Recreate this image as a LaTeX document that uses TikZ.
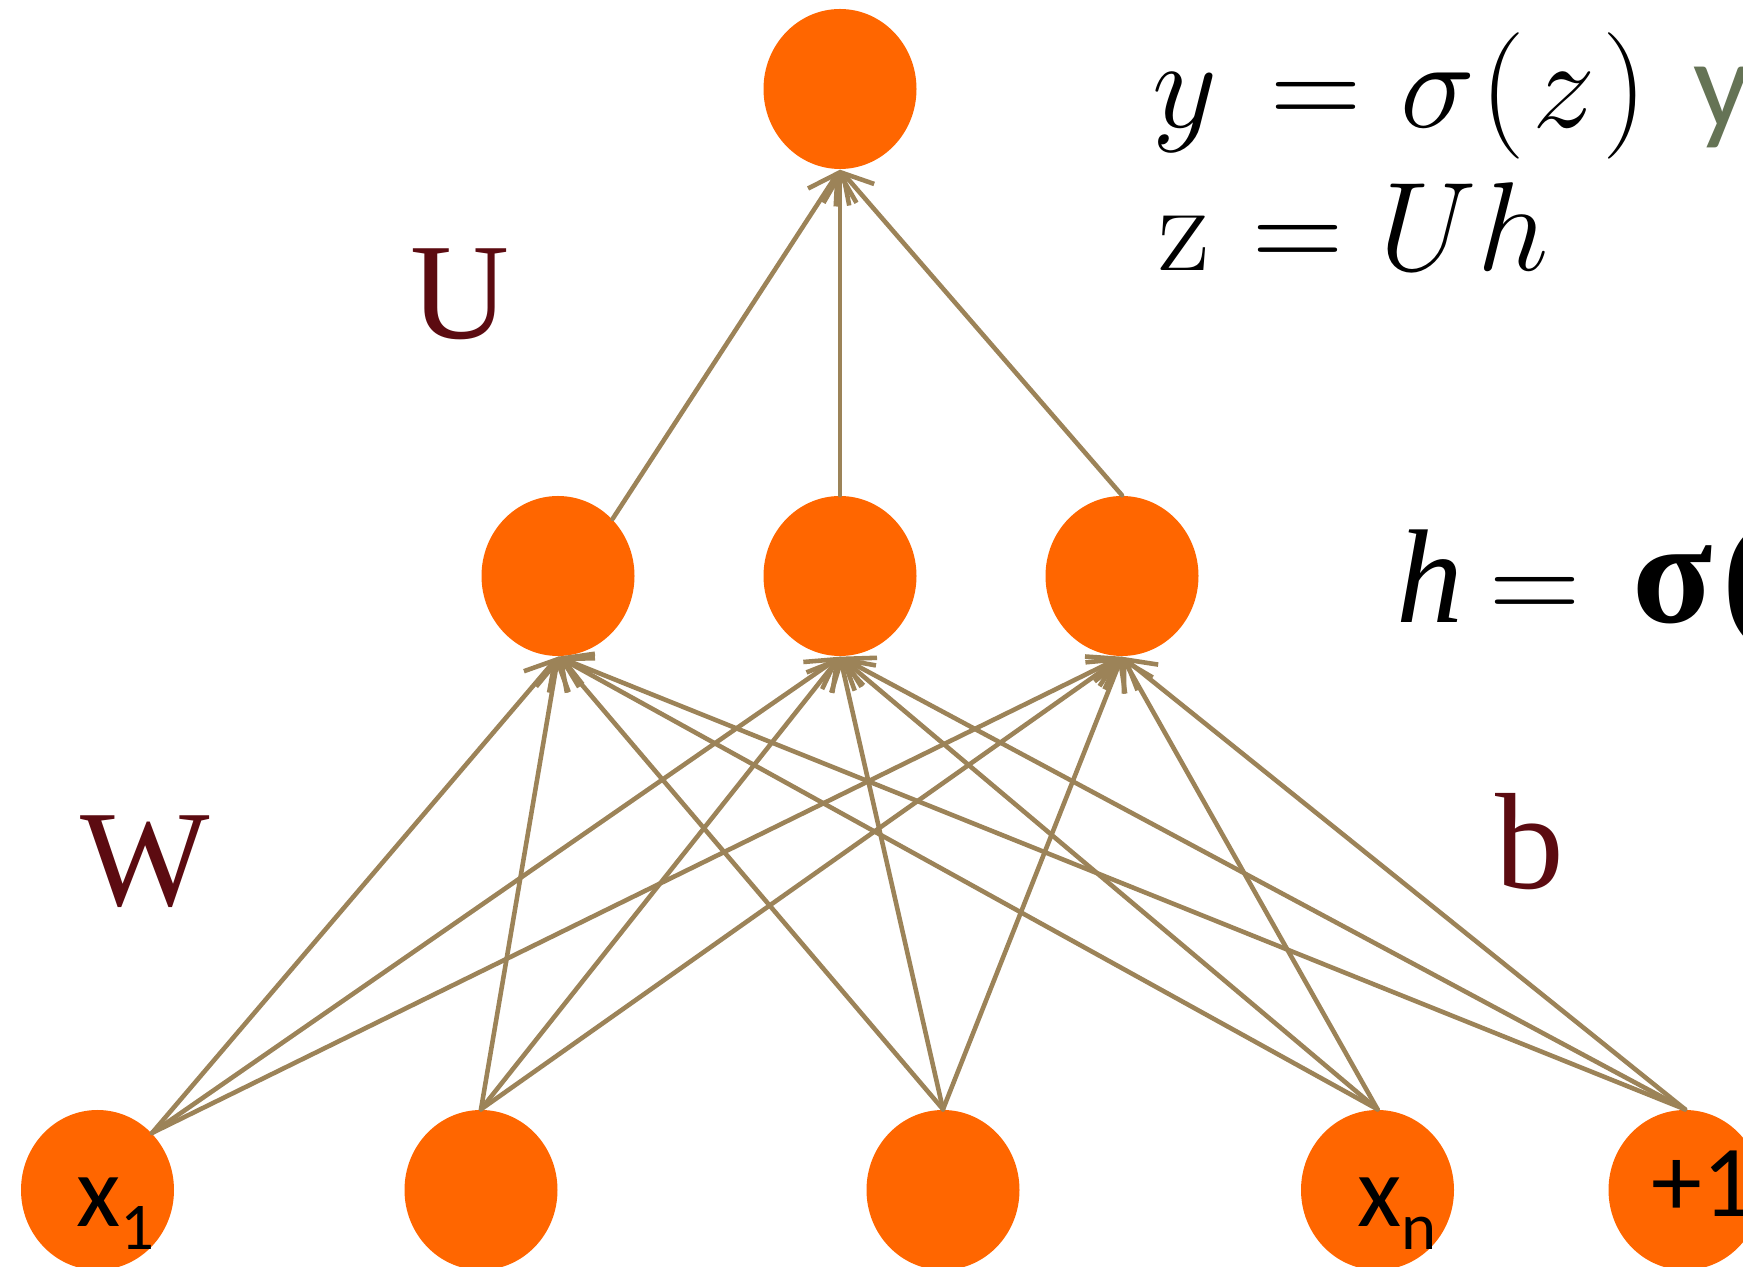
\RequirePackage{fix-cm}
\documentclass[tikz,border=0pt]{standalone}
\usepackage{amsmath}
\usepackage{fontspec}
\usepackage{xcolor}
\usepackage{tikz}
\usetikzlibrary{arrows.meta,shapes.geometric}

\newfontfamily\fuentesans{Carlito}
\newfontfamily\fuenteserif{Liberation Serif}

\definecolor{naranja}{RGB}{255,102,0}
\definecolor{pesos}{RGB}{156,131,88}
\definecolor{granate}{RGB}{92,11,17}
\definecolor{oliva}{RGB}{101,115,85}

\begin{document}
\begin{tikzpicture}[
  neurona/.style={ellipse, fill=naranja, draw=none, inner sep=0pt,
                  minimum width=15.3mm, minimum height=16mm},
  flecha/.style={draw=pesos, line width=1.3pt, line cap=round,
                 -{Straight Barb[angle=60:3.3mm]}},
  etqx/.style={font=\fuentesans\fontsize{29}{29}\selectfont, inner sep=0pt,
               anchor=base},
  param/.style={font=\fuenteserif\fontsize{39}{39}\selectfont, text=granate,
                inner sep=0pt, anchor=base},
  ecuacion/.style={font=\fontsize{36}{40}\selectfont, inner sep=0pt,
                   anchor=base west},
]
  \useasboundingbox[fill=white] (0,0) rectangle (17.43,12.67);

  % Neurona de salida
  \node[neurona] (out) at (8.40,11.78) {};

  % Capa oculta
  \node[neurona] (h1) at ( 5.58,6.91) {};
  \node[neurona] (h2) at ( 8.40,6.91) {};
  \node[neurona] (h3) at (11.22,6.91) {};

  % Entradas (la ultima es el sesgo)
  \node[neurona] (x1)   at ( 0.975,0.77) {};
  \node[neurona] (x2)   at ( 4.81, 0.77) {};
  \node[neurona] (x3)   at ( 9.43, 0.77) {};
  \node[neurona] (xn)   at (13.775,0.77) {};
  \node[neurona] (bias) at (16.85, 0.77) {};

  \node[etqx] (lx1) at ( 1.15,0.40) {x\raisebox{-2.3mm}{\fontsize{19}{19}\selectfont 1}};
  \node[etqx] (lxn) at (13.97,0.40) {x\raisebox{-2.3mm}{\fontsize{19}{19}\selectfont n}};
  \node[etqx, anchor=base west] (lbias) at (16.51,0.50) {+1};

  % Pesos W: de cada entrada a cada neurona oculta
  \draw[flecha] (x1.north east) -- (h1.south);
  \draw[flecha] (x1.north east) -- (h2.south);
  \draw[flecha] (x1.north east) -- (h3.south);
  \draw[flecha] (x2.north) -- (h1.south);
  \draw[flecha] (x2.north) -- (h2.south);
  \draw[flecha] (x2.north) -- (h3.south);
  \draw[flecha] (x3.north) -- (h1.south);
  \draw[flecha] (x3.north) -- (h2.south);
  \draw[flecha] (x3.north) -- (h3.south);
  \draw[flecha] (xn.north) -- (h1.south);
  \draw[flecha] (xn.north) -- (h2.south);
  \draw[flecha] (xn.north) -- (h3.south);
  \draw[flecha] (bias.north) -- (h1.south);
  \draw[flecha] (bias.north) -- (h2.south);
  \draw[flecha] (bias.north) -- (h3.south);

  % Pesos U: de la capa oculta a la salida
  \draw[flecha] (h1.north east) -- (out.south);
  \draw[flecha] (h2.north)      -- (out.south);
  \draw[flecha] (h3.north)      -- (out.south);

  % Nombres de los parametros
  \node[param] (lU) at ( 4.60,9.28) {U};
  \node[param] (lW) at ( 1.45,3.61) {W};
  \node[param] (lb) at (15.30,3.78) {b};

  % Ecuaciones
  \node[ecuacion] (eqy) at (11.52,11.39)
    {$y\mkern2.5mu=\mkern0.5mu\sigma\mkern0.8mu(\mkern1mu z\mkern1mu)$};
  \node[ecuacion, font=\fuentesans\fontsize{36}{40}\selectfont, text=oliva]
    (verde) at (16.93,11.39) {y};
  \node[ecuacion] (eqz) at (11.58,9.96)
    {$\mathrm{z}\mkern1mu=\mkern0.2mu Uh$};
  \node[ecuacion] (eqh) at (13.96,6.44)
    {{\fuenteserif\fontsize{38}{40}\selectfont\itshape h}\hspace{0.26cm}$=$\hspace{0.52cm}{\fuenteserif\fontsize{42}{44}\selectfont\bfseries σ\hspace{0.1cm}(}};
\end{tikzpicture}
\end{document}
